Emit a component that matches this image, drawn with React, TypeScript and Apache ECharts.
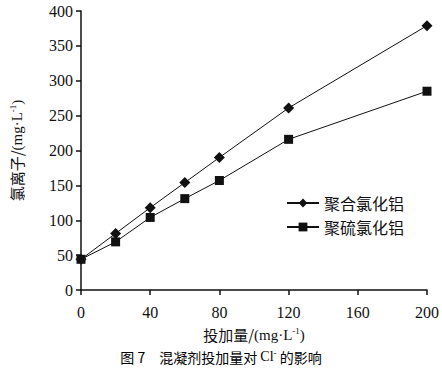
import React, { useEffect, useRef } from "react";
import * as echarts from "echarts";

const doses = [0, 20, 40, 60, 80, 120, 200];
const pacValues = [44, 81, 118, 154, 190, 261, 379];
const pfcValues = [44, 69, 104, 131, 157, 216, 285];
const seriesNames = ["聚合氯化铝", "聚硫氯化铝"];

export default function App() {
  const ref = useRef<HTMLDivElement>(null);
  useEffect(() => {
    const chart = echarts.init(ref.current!, undefined, { renderer: "svg" });
    const serif = "serif";
    const cjk = "Noto Sans CJK SC";
    const unitRich = {
      c: { fontFamily: cjk, fontSize: 15, color: "#111" },
      u: { fontFamily: serif, fontSize: 15, color: "#111" },
      s: { fontFamily: serif, fontSize: 9, color: "#111", verticalAlign: "top", padding: [0, 0, 8, 0] },
    };
    chart.setOption({
      animation: false,
      backgroundColor: "#fff",
      textStyle: { fontFamily: serif },
      grid: { left: 78, right: 11, top: 11, bottom: 88 },
      legend: {
        orient: "vertical",
        left: 281,
        top: 190,
        itemGap: 8,
        itemWidth: 32,
        itemHeight: 11,
        textStyle: { fontFamily: cjk, fontSize: 16, color: "#111" },
        data: seriesNames,
      },
      xAxis: {
        type: "value",
        min: 0,
        max: 200,
        interval: 40,
        name: "{c|投加量/}{u|(mg·L}{s|-1}{u|)}",
        nameLocation: "middle",
        nameGap: 36,
        nameTextStyle: { rich: unitRich },
        axisLine: { lineStyle: { color: "#111", width: 1.5 } },
        axisTick: { inside: false, length: 5, lineStyle: { color: "#111", width: 1.5 } },
        axisLabel: { fontFamily: serif, fontSize: 16, color: "#111", margin: 14 },
        splitLine: { show: false },
      },
      yAxis: {
        type: "value",
        min: 0,
        max: 400,
        interval: 50,
        name: "{c|氯离子/}{u|(mg·L}{s|-1}{u|)}",
        nameLocation: "middle",
        nameRotate: 90,
        nameGap: 56,
        nameTextStyle: { rich: unitRich },
        axisLine: { show: true, lineStyle: { color: "#111", width: 1.5 } },
        axisTick: { show: true, inside: false, length: 5, lineStyle: { color: "#111", width: 1.5 } },
        axisLabel: { fontFamily: serif, fontSize: 16, color: "#111", margin: 8 },
        splitLine: { show: false },
      },
      series: [
        {
          name: seriesNames[0],
          type: "line",
          data: doses.map((d, i) => [d, pacValues[i]]),
          symbol: "diamond",
          symbolSize: 11,
          itemStyle: { color: "#111" },
          lineStyle: { color: "#111", width: 1 },
        },
        {
          name: seriesNames[1],
          type: "line",
          data: doses.map((d, i) => [d, pfcValues[i]]),
          symbol: "rect",
          symbolSize: 9,
          itemStyle: { color: "#111" },
          lineStyle: { color: "#111", width: 1 },
        },
      ],
      graphic: [
        {
          type: "text",
          left: "center",
          top: 348,
          style: {
            text: "{c|图 7　混凝剂投加量对 }{u|Cl}{s|-}{c| 的影响}",
            rich: {
              c: { fontFamily: cjk, fontSize: 14, color: "#111" },
              u: { fontFamily: serif, fontSize: 14, color: "#111" },
              s: { fontFamily: serif, fontSize: 9, color: "#111", verticalAlign: "top", padding: [0, 0, 8, 0] },
            },
          },
        },
      ],
    });
    return () => chart.dispose();
  }, []);
  return (
    <div
      ref={ref}
      style={{ position: "fixed", left: 0, top: 0, width: 442, height: 378 }}
    />
  );
}
